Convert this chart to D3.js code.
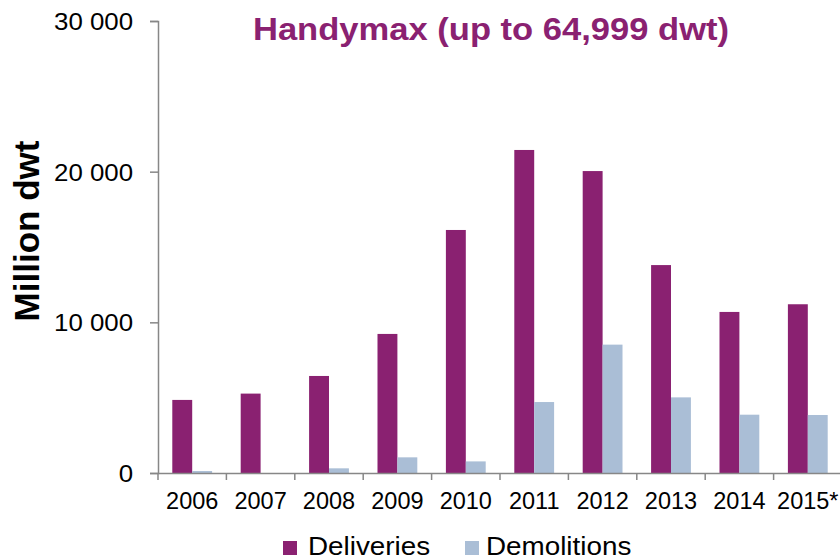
<!DOCTYPE html>
<html>
<head>
<meta charset="utf-8">
<script src="https://cdn.jsdelivr.net/npm/d3@7"></script>
<style>
  html, body { margin: 0; padding: 0; background: #fff; }
  svg { display: block; font-family: "Liberation Sans", Arial, sans-serif; }
</style>
</head>
<body>
<svg id="chart" width="840" height="560"></svg>
<script>
const years = ["2006", "2007", "2008", "2009", "2010", "2011", "2012", "2013", "2014", "2015*"];
const deliveries = [4850, 5270, 6440, 9230, 16130, 21440, 20040, 13800, 10690, 11200];
const demolitions = [130, 0, 310, 1040, 770, 4710, 8520, 5020, 3870, 3850];
const seriesNames = ["Deliveries", "Demolitions"];
const seriesColors = ["#8A2171", "#AABED6"];
const yTicks = [0, 10000, 20000, 30000];
const titleText = "Handymax (up to 64,999 dwt)";
const yTitle = "Million dwt";

(function () {
const svg = d3.select("#chart");
const pLeft = 158, pRight = 842, pTop = 21, pBottom = 473;
const axisColor = "#878787";

const x = d3.scaleBand().domain(years).range([pLeft, pRight]).paddingInner(0).paddingOuter(0);
const bw = x.bandwidth();
const x1 = d3.scaleBand().domain(seriesNames).range([bw * 0.209, bw * 0.791]).padding(0);
const y = d3.scaleLinear().domain([0, 30000]).range([pBottom, pTop]);

const data = years.map((yr, i) => ({ year: yr, values: [deliveries[i], demolitions[i]] }));

// bars
const groups = svg.append("g").selectAll("g").data(data).join("g")
  .attr("transform", d => `translate(${x(d.year)},0)`);
groups.selectAll("rect").data(d => d.values.map((v, k) => ({ k, v })))
  .join("rect")
  .attr("x", d => x1(seriesNames[d.k]))
  .attr("width", x1.bandwidth())
  .attr("y", d => y(d.v))
  .attr("height", d => y(0) - y(d.v))
  .attr("fill", d => seriesColors[d.k]);

// y axis
const fmt = v => d3.format(",")(v).replace(/,/g, " ");
const yAxis = svg.append("g").attr("transform", `translate(${pLeft},0)`)
  .call(d3.axisLeft(y).tickValues(yTicks).tickFormat(fmt).tickSize(8).tickPadding(14.7));
yAxis.select(".domain").attr("stroke", axisColor).attr("stroke-width", 1.5);
yAxis.selectAll(".tick line").attr("stroke", axisColor).attr("stroke-width", 1.5);
yAxis.selectAll(".tick text").attr("font-size", 23.5).attr("fill", "#000")
  .attr("transform", "scale(1.1,1)")
  .attr("font-family", "Liberation Sans, Arial, sans-serif").attr("dy", "0.36em");

// x axis
const xAxis = svg.append("g").attr("transform", `translate(0,${pBottom})`)
  .call(d3.axisBottom(x).tickSize(0).tickPadding(24));
xAxis.select(".domain").attr("stroke", axisColor).attr("stroke-width", 1.5);
xAxis.selectAll(".tick text").attr("font-size", 23.5).attr("fill", "#000")
  .attr("font-family", "Liberation Sans, Arial, sans-serif").attr("dy", "0.5em");
const bounds = years.map(d => x(d)).concat([x.range()[1]]);
xAxis.selectAll("line.bound").data(bounds).join("line").attr("class", "bound")
  .attr("x1", d => d).attr("x2", d => d).attr("y1", 0).attr("y2", 7)
  .attr("stroke", axisColor).attr("stroke-width", 1.5);

// title
svg.append("text")
  .attr("transform", "translate(491,40) scale(1.08,1)")
  .attr("text-anchor", "middle")
  .attr("font-size", 32).attr("font-weight", "bold")
  .attr("fill", "#8A2171")
  .text(titleText);

// y title
svg.append("text")
  .attr("transform", "translate(39,231) rotate(-90)")
  .attr("text-anchor", "middle")
  .attr("font-size", 35).attr("font-weight", "bold")
  .attr("fill", "#000")
  .text(yTitle);

// legend
const legendPos = [{ sx: 283, tx: 308 }, { sx: 465, tx: 486 }];
const leg = svg.append("g").selectAll("g").data(seriesNames).join("g");
leg.append("rect")
  .attr("x", (d, i) => legendPos[i].sx).attr("y", 541)
  .attr("width", 14).attr("height", 14)
  .attr("fill", (d, i) => seriesColors[i]);
leg.append("text")
  .attr("transform", (d, i) => `translate(${legendPos[i].tx},555) scale(1.05,1)`)
  .attr("font-size", 26.5).attr("fill", "#000")
  .text(d => d);
})();
</script>
</body>
</html>
